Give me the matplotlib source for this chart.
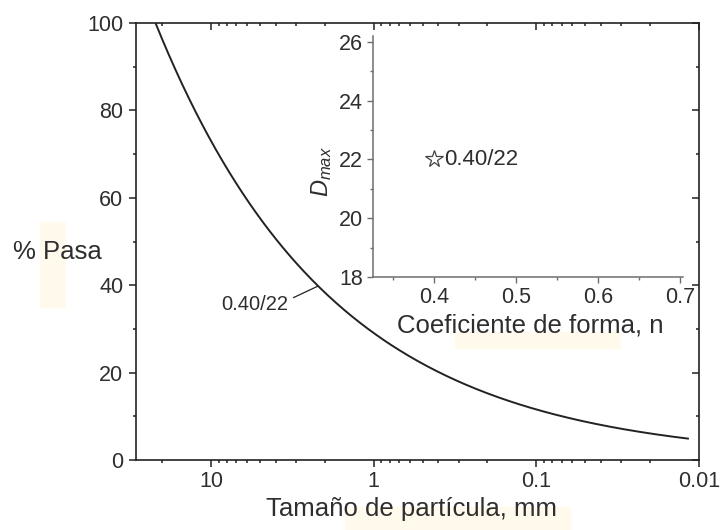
import numpy as np
import matplotlib.pyplot as plt
from matplotlib.patches import Rectangle
from matplotlib.ticker import FixedLocator, MultipleLocator, LogLocator, NullFormatter

plt.rcParams['font.family'] = ['Liberation Sans', 'DejaVu Sans']
plt.rcParams['mathtext.fontset'] = 'custom'
plt.rcParams['mathtext.it'] = 'Liberation Sans:italic'
plt.rcParams['mathtext.rm'] = 'Liberation Sans'

# Fuller-type gradation: shape coefficient n and maximum size Dmax (mm)
n_coef = [0.40]
d_max = [22.0]
curve_labels = ['0.40/22']
d_min = 0.0117          # smallest size plotted, mm

x_ticks = [10, 1, 0.1, 0.01]
x_ticklabels = ['10', '1', '0.1', '0.01']
y_ticks = [0, 20, 40, 60, 80, 100]
inset_x_ticks = [0.4, 0.5, 0.6, 0.7]
inset_y_ticks = [18, 20, 22, 24, 26]

ink = '#222222'
txt = '#2e2e2e'
gray = '#6e6e6e'

fig = plt.figure(figsize=(7.2, 5.3), dpi=100)

# pale marker highlights left behind some of the labels
for (x0, y0, w, h) in [(40, 222, 25, 85), (345, 507, 225, 23), (455, 332, 165, 16)]:
    fig.patches.append(Rectangle((x0 / 720, 1 - (y0 + h) / 530), w / 720, h / 530,
                                 transform=fig.transFigure, color='#fffaec', zorder=-5))

ax = fig.add_axes([136 / 720, 1 - 460 / 530, (699 - 136) / 720, (460 - 23) / 530])
ax.patch.set_alpha(0)

for n, dm, lab in zip(n_coef, d_max, curve_labels):
    d = np.geomspace(dm, d_min, 400)
    pasa = 100 * (d / dm) ** n
    ax.plot(d, pasa, color=ink, lw=1.4)
    d_lab = 2.2
    ax.annotate(lab, xy=(d_lab, 100 * (d_lab / dm) ** n), xytext=(5.4, 35.5),
                textcoords='data', ha='center', va='center', fontsize=14.5, color=txt,
                arrowprops=dict(arrowstyle='-', color=ink, lw=0.9, shrinkA=2, shrinkB=0,
                                relpos=(1.0, 0.75)))

ax.set_xscale('log')
ax.set_xlim(29, 0.01)
ax.set_ylim(0, 100)
ax.xaxis.set_major_locator(FixedLocator(x_ticks))
ax.set_xticklabels(x_ticklabels)
ax.xaxis.set_minor_locator(LogLocator(base=10, subs=np.arange(2, 10)))
ax.xaxis.set_minor_formatter(NullFormatter())
ax.yaxis.set_major_locator(FixedLocator(y_ticks))
ax.yaxis.set_minor_locator(MultipleLocator(10))

for sp in ax.spines.values():
    sp.set_linewidth(1.2)
    sp.set_color(ink)

ax.tick_params(which='both', labelsize=15.5, labelcolor=txt, color=ink, width=1.1)
ax.tick_params(which='major', length=5, pad=4)
ax.tick_params(axis='x', which='major', pad=3)
ax.tick_params(which='minor', length=2.5)
ax.tick_params(axis='x', which='both', top=True, direction='out')
ax.tick_params(axis='y', which='both', right=True, direction='out')
# top and right ticks point inward
for t in ax.xaxis.get_major_ticks() + ax.xaxis.get_minor_ticks():
    t.tick2line.set_marker(3)
for t in ax.yaxis.get_major_ticks() + ax.yaxis.get_minor_ticks():
    t.tick2line.set_marker(0)

ax.set_xlabel('Tamaño de partícula, mm', fontsize=18.5, color=txt)
ax.xaxis.set_label_coords((412 - 136) / 563, -(509 - 460) / 437)
ax.xaxis.label.set_va('center')
ax.set_ylabel('% Pasa', fontsize=18.5, color=txt, rotation=0, ha='center', va='center')
ax.yaxis.set_label_coords(-(136 - 57) / 563, (460 - 252) / 437)

# inset: shape coefficient vs maximum size
axi = fig.add_axes([373 / 720, 1 - 277 / 530, (683 - 373) / 720, (277 - 36) / 530])
axi.patch.set_alpha(0)
axi.plot(n_coef, d_max, linestyle='none', marker='*', ms=13, mfc='white', mec='#444444', mew=0.9)
for n, dm, lab in zip(n_coef, d_max, curve_labels):
    axi.annotate(lab, xy=(n, dm), xytext=(7, 0), textcoords='offset points',
                 va='center', ha='left', fontsize=16, color=txt)

axi.set_xlim(0.325, 0.704)
axi.set_ylim(18, 26.2)
axi.xaxis.set_major_locator(FixedLocator(inset_x_ticks))
axi.xaxis.set_minor_locator(MultipleLocator(0.05))
axi.yaxis.set_major_locator(FixedLocator(inset_y_ticks))
axi.yaxis.set_minor_locator(MultipleLocator(1))
axi.spines['top'].set_visible(False)
axi.spines['right'].set_visible(False)
for sp in ('left', 'bottom'):
    axi.spines[sp].set_color(gray)
    axi.spines[sp].set_linewidth(1.1)
axi.tick_params(which='both', labelsize=15.5, labelcolor=txt, color=gray, width=1.0, direction='out')
axi.tick_params(which='major', length=4, pad=3)
axi.tick_params(which='minor', length=2)
axi.set_xlabel('Coeficiente de forma, n', fontsize=18.5, color=txt)
axi.xaxis.set_label_coords((530 - 373) / 310, -(326 - 277) / 241)
axi.xaxis.label.set_va('center')
axi.set_ylabel(r'$D_{max}$', fontsize=17, color=txt, va='center')
axi.yaxis.set_label_coords(-(373 - 322) / 310, (277 - 172) / 241)

fig.savefig('out.png', dpi=100)
